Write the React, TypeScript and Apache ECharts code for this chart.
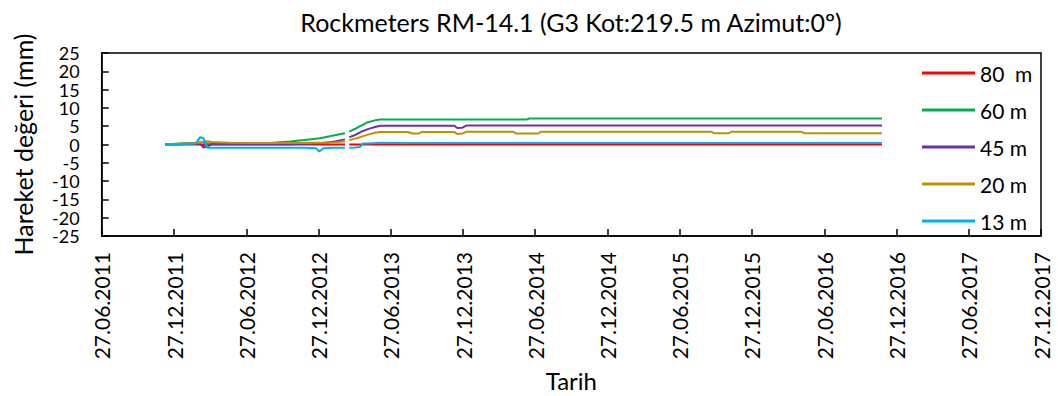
import React, { useEffect, useRef } from "react";
import * as echarts from "echarts";

const TITLE = "Rockmeters RM-14.1 (G3 Kot:219.5 m Azimut:0º)";
const Y_NAME = "Hareket değeri (mm)";
const X_NAME = "Tarih";

const X_TICKS = [
  "2011-06-27", "2011-12-27", "2012-06-27", "2012-12-27", "2013-06-27",
  "2013-12-27", "2014-06-27", "2014-12-27", "2015-06-27", "2015-12-27",
  "2016-06-27", "2016-12-27", "2017-06-27", "2017-12-27",
];

const DATES = [
  "2011-12-04", "2012-01-10", "2012-02-20", "2012-03-02", "2012-03-10",
  "2012-03-20", "2012-04-01", "2012-05-15", "2012-07-10", "2012-09-01",
  "2012-10-15", "2012-11-20", "2012-12-20", "2012-12-28", "2013-01-08",
  "2013-02-05", "2013-03-03", "2013-03-08", "2013-03-14", "2013-03-29",
  "2013-04-10", "2013-04-18", "2013-04-30", "2013-05-18", "2013-05-31",
  "2013-08-10", "2013-08-20", "2013-09-05", "2013-09-12", "2013-12-05",
  "2013-12-12", "2013-12-25", "2014-01-05", "2014-05-02", "2014-05-10",
  "2014-06-05", "2014-06-12", "2014-07-05", "2014-07-12", "2015-09-15",
  "2015-09-22", "2015-10-30", "2015-11-06", "2016-04-30", "2016-05-07",
  "2016-11-20",
];

const M80 = [
  0, 0, 0, 0, -0.2, 0, 0, 0, 0, 0,
  0, 0, 0, 0, 0, 0, 0, null, 0, 0,
  0, 0, 0, 0, 0, 0, 0, 0, 0, 0,
  0, 0, 0, 0, 0, 0, 0, 0, 0, 0,
  0, 0, 0, 0, 0, 0,
];
const M60 = [
  0, 0.3, 0.5, 0.6, 0.5, 0.3, 0.3, 0.3, 0.3, 0.5,
  0.8, 1.2, 1.6, 1.7, 1.9, 2.5, 3.1, null, 3.5, 4.3,
  5.0, 5.4, 6.1, 6.6, 6.8, 6.8, 6.8, 6.8, 6.8, 6.8,
  6.8, 6.8, 6.8, 6.8, 6.8, 6.8, 7.1, 7.1, 7.1, 7.1,
  7.1, 7.1, 7.1, 7.1, 7.1, 7.1,
];
const M45 = [
  0, 0.1, 0.3, 0.2, -0.8, -0.6, 0.1, 0.1, 0.1, 0.1,
  0.1, 0.2, 0.3, 0.3, 0.4, 0.8, 1.4, null, 2.0, 2.6,
  3.3, 3.7, 4.2, 4.8, 5.1, 5.1, 5.1, 5.1, 5.1, 5.1,
  4.5, 4.6, 5.2, 5.2, 5.2, 5.2, 5.2, 5.2, 5.2, 5.2,
  5.2, 5.2, 5.2, 5.2, 5.2, 5.2,
];
const M20 = [
  0, 0.2, 0.4, 0.5, 0.8, 0.9, 0.7, 0.5, 0.4, 0.4,
  0.4, 0.4, 0.5, 0.5, 0.5, 0.6, 0.8, null, 1.2, 1.6,
  2.0, 2.3, 2.7, 3.2, 3.4, 3.4, 3.0, 3.0, 3.4, 3.4,
  2.9, 3.0, 3.5, 3.5, 3.0, 3.0, 3.0, 3.0, 3.5, 3.5,
  3.1, 3.1, 3.5, 3.5, 3.1, 3.1,
];
const M13 = [
  0, 0.1, 0.3, 2.0, 1.8, -0.9, -0.9, -0.9, -0.9, -0.9,
  -0.9, -0.9, -1.0, -1.9, -1.0, -0.9, -0.9, null, -0.9, -0.8,
  -0.7, 0.3, 0.3, 0.4, 0.5, 0.4, 0.4, 0.4, 0.4, 0.4,
  0.4, 0.4, 0.4, 0.4, 0.4, 0.4, 0.4, 0.4, 0.4, 0.4,
  0.4, 0.4, 0.4, 0.4, 0.4, 0.4,
];

const SERIES_NAMES = ["80  m", "60 m", "45 m", "20 m", "13 m"];
const SERIES_VALUES = [M80, M60, M45, M20, M13];
const COLORS = ["#FF0000", "#00B050", "#7030A0", "#BF9000", "#00B0F0"];

const FONT = "Lato";

function ts(s: string): number {
  const [y, m, d] = s.split("-").map(Number);
  return new Date(y, m - 1, d).getTime();
}
function fmt(v: number): string {
  const d = new Date(v);
  const dd = String(d.getDate()).padStart(2, "0");
  const mm = String(d.getMonth() + 1).padStart(2, "0");
  return `${dd}.${mm}.${d.getFullYear()}`;
}

export default function App() {
  const ref = useRef<HTMLDivElement>(null);
  useEffect(() => {
    document.body.style.margin = "0";
    const chart = echarts.init(ref.current!, null, { renderer: "svg" });
    const tickVals = X_TICKS.map(ts);
    chart.setOption({
      animation: false,
      textStyle: { fontFamily: FONT },
      title: {
        text: TITLE,
        left: 566,
        top: 4,
        textAlign: "center",
        textStyle: { fontFamily: FONT, fontSize: 25, fontWeight: "normal", color: "#000" },
      },
      legend: {
        orient: "vertical",
        left: 917,
        top: 57,
        itemWidth: 53,
        itemHeight: 3,
        itemGap: 15,
        icon: "rect",
        textStyle: { fontFamily: FONT, fontSize: 21, color: "#000", lineHeight: 22 },
        data: SERIES_NAMES,
      },
      grid: {
        left: 101.7,
        right: 17,
        top: 53,
        bottom: 160,
        show: true,
        borderColor: "#000",
        borderWidth: 1.5,
        containLabel: false,
      },
      xAxis: {
        type: "value",
        min: tickVals[0],
        max: tickVals[tickVals.length - 1],
        scale: true,
        name: X_NAME,
        nameLocation: "middle",
        nameGap: 132,
        nameTextStyle: { fontFamily: FONT, fontSize: 24, color: "#000" },
        axisLine: { show: true, onZero: false, lineStyle: { color: "#000", width: 1.5 } },
        axisTick: { show: true, inside: true, length: 7, lineStyle: { color: "#000", width: 1.5 }, customValues: tickVals },
        axisLabel: {
          rotate: 90,
          margin: 16,
          fontFamily: FONT,
          fontSize: 21,
          color: "#000",
          customValues: tickVals,
          formatter: (v: number) => fmt(v),
          hideOverlap: false,
          showMinLabel: true,
          showMaxLabel: true,
        },
        splitLine: { show: false },
      },
      yAxis: {
        type: "value",
        min: -25,
        max: 25,
        interval: 5,
        name: Y_NAME,
        nameLocation: "middle",
        nameGap: 66,
        nameRotate: 90,
        nameTextStyle: { fontFamily: FONT, fontSize: 25, color: "#000" },
        axisLine: { show: true, onZero: false, lineStyle: { color: "#000", width: 1.5 } },
        axisTick: { show: true, inside: true, length: 7, lineStyle: { color: "#000", width: 1.5 } },
        axisLabel: {
          margin: 22,
          fontFamily: FONT,
          fontSize: 18,
          lineHeight: 16,
          color: "#000",
          showMinLabel: true,
          showMaxLabel: true,
          hideOverlap: false,
        },
        splitLine: { show: false },
      },
      series: SERIES_NAMES.map((name, i) => ({
        name,
        type: "line",
        showSymbol: false,
        symbol: "none",
        connectNulls: false,
        color: COLORS[i],
        lineStyle: { color: COLORS[i], width: 2 },
        data: DATES.map((d, j) => [ts(d), SERIES_VALUES[i][j]]),
      })),
    });
    return () => chart.dispose();
  }, []);
  return <div ref={ref} style={{ width: 1058, height: 396 }} />;
}
